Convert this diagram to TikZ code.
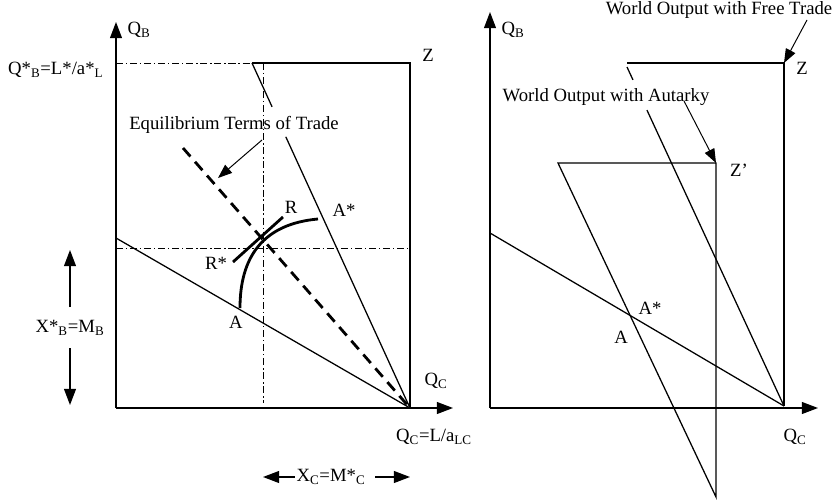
\documentclass[tikz,border=0pt]{standalone}
\usepackage{fontspec}
\setmainfont{Liberation Serif}
\usetikzlibrary{arrows.meta,positioning,calc}

\begin{document}
\begin{tikzpicture}[x=0.025cm, y=-0.025cm,
  ax/.style={-{Triangle[length=11.5pt,width=8.5pt]}, line width=0.9pt},
  ln/.style={line width=0.9pt},
  thk/.style={line width=2pt},
  dsh/.style={line width=2pt, dash pattern=on 8pt off 5pt},
  ddot/.style={line width=0.6pt, dash pattern=on 5pt off 2pt on 1pt off 2pt},
  ptr/.style={-{Triangle[length=10pt,width=7.5pt]}, line width=0.7pt},
  lbl/.style={font=\fontsize{13.3}{16}\selectfont, inner sep=1pt},
]
\useasboundingbox (0,0) rectangle (838,500);

% left panel
\coordinate (o1) at (116,408);
\coordinate (yt1) at (116,22);
\coordinate (xt1) at (453,408);
\coordinate (zs1) at (252,63);
\coordinate (z1) at (410,63);
\coordinate (qc1) at (410,408);
\coordinate (h1) at (116,238);
\coordinate (d1) at (183,148);
\coordinate (e1) at (263,248);
\coordinate (a1) at (240,308);
\coordinate (as1) at (318,219);
\coordinate (rs1) at (233,262);
\coordinate (r1) at (283,217);

\draw[ddot] (o1 |- zs1) -- (zs1);
\draw[ddot] (e1 |- zs1) -- ($(e1 |- o1)+(0,-5)$);
\draw[ddot] (o1 |- e1) -- (qc1 |- e1);

\draw[ax] (o1) -- (yt1);
\draw[ax] (o1) -- (xt1);
\draw[ln] (zs1) -- (z1) -- (qc1);
\draw[ln] (zs1) -- ($(zs1)!0.127!(qc1)$);
\draw[ln] ($(zs1)!0.214!(qc1)$) -- (qc1);
\draw[ln] (h1) -- (qc1);
\draw[dsh] (d1) -- (qc1);
\draw[thk] (a1) .. controls (240,258) and (262,224) .. (as1);
\draw[thk] (rs1) -- (r1);

\node[lbl, anchor=west] (qb1) at (126,30) {Q\textsubscript{B}};
\node[lbl, anchor=east] (qsb) at (105,70) {Q*\textsubscript{B}=L*/a*\textsubscript{L}};
\node[lbl] (zl1) at (428,55) {Z};
\node[lbl] (eqt) at (234,125) {Equilibrium Terms of Trade};
\node[lbl] (rl) at (291,207) {R};
\node[lbl] (asl1) at (344,210) {A*};
\node[lbl] (rsl) at (216,263) {R*};
\node[lbl] (al1) at (236,322) {A};
\node[lbl] (qcl1) at (436,381) {Q\textsubscript{C}};
\node[lbl] (qcd) at (434,437) {Q\textsubscript{C}=L/a\textsubscript{LC}};
\node[lbl] (xb) at (70,328) {X*\textsubscript{B}=M\textsubscript{B}};
\node[lbl] (xc) at (331,477) {X\textsubscript{C}=M*\textsubscript{C}};

\coordinate (eqs) at (262,140);
\coordinate (eqe) at (218,178);
\draw[ptr] (eqs) -- (eqe);

\coordinate (xbu) at (70,250);
\coordinate (xbd) at (70,405);
\draw[ax] (xb.north |- 0,307) -- (xbu);
\draw[ax] (xb.south |- 0,348) -- (xbd);
\coordinate (xcl) at (263,477);
\coordinate (xcr) at (410,477);
\draw[ax] (xc.west) -- (xcl);
\draw[ax] ($(xc.east)+(8,0)$) -- (xcr);

% right panel
\coordinate (o2) at (490,408);
\coordinate (yt2) at (490,12);
\coordinate (xt2) at (818,408);
\coordinate (zs2) at (627,63);
\coordinate (z2) at (784,63);
\coordinate (qc2) at (784,406);
\coordinate (fs2) at (627,67);
\coordinate (zps) at (558,163);
\coordinate (zp) at (716,163);
\coordinate (zpb) at (716,497);
\coordinate (h2) at (490,233);

\draw[ax] (o2) -- (yt2);
\draw[ax] (o2) -- (xt2);
\draw[ln] (zs2) -- (z2) -- (qc2);
\draw[ln] (fs2) -- ($(fs2)!0.038!(qc2)$);
\draw[ln] ($(fs2)!0.127!(qc2)$) -- (qc2);
\draw[ln] (h2) -- (qc2);
\draw[ln] (zps) -- (zp) -- (zpb) -- cycle;

\node[lbl, anchor=west] (qb2) at (500,30) {Q\textsubscript{B}};
\node[lbl] (zl2) at (802,68) {Z};
\node[lbl] (zpl) at (739,170) {Z’};
\node[lbl] (asl2) at (650,308) {A*};
\node[lbl] (al2) at (621,337) {A};
\node[lbl] (qcl2) at (795,437) {Q\textsubscript{C}};
\node[lbl] (wft) at (719,10) {World Output with Free Trade};
\node[lbl] (wat) at (606,97) {World Output with Autarky};

\coordinate (fts) at (807,20);
\draw[ptr] (fts) -- (z2);
\coordinate (ats) at (684,101);
\draw[ptr] (ats) -- (zp);
\end{tikzpicture}
\end{document}
